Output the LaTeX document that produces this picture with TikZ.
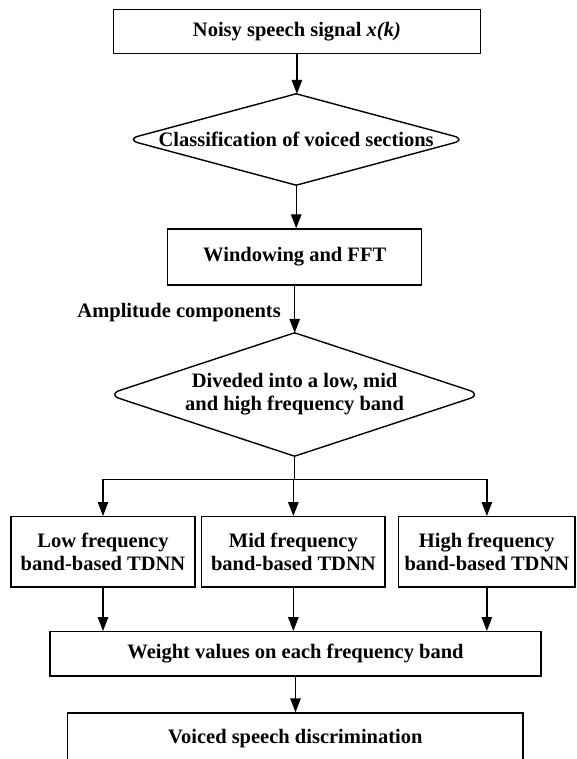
\documentclass[tikz,border=0pt]{standalone}
\usepackage{fontspec}
\setmainfont{Liberation Serif}
\usetikzlibrary{arrows.meta,calc}
\begin{document}
\begin{tikzpicture}[x=1pt,y=-1pt,
  every node/.style={font=\fontsize{20.5}{23}\selectfont\bfseries},
  box/.style={draw, line width=1.4pt, inner sep=0pt, align=center},
  dia/.style={draw=none, inner sep=0pt, align=center},
  ln/.style={line width=1.4pt},
  arr/.style={line width=1.4pt, -{Triangle[length=14pt,width=10.5pt]}},
  diaedge/.style={line width=1.4pt, line cap=round, line join=round, rounded corners=13pt},
]
\useasboundingbox (0,0) rectangle (576,759);
\clip (0,0) rectangle (576,759);

% nodes
\node[box, minimum width=367pt, minimum height=44pt] (sig) at (296.9,31.3) {Noisy speech signal \textit{x(k)}};
\node[dia, minimum width=340pt, minimum height=91pt] (cls) at (296.2,139.5) {Classification of voiced sections};
\node[box, minimum width=254pt, minimum height=56pt] (fft) at (294.7,257) {Windowing and FFT};
\node[anchor=east, inner sep=0pt] (amp) at (281,313) {Amplitude components};
\node[dia, minimum width=374pt, minimum height=123pt] (band) at (294.6,394.5) {Diveded into a low, mid\\and high frequency band};
\coordinate (br) at (294.6,479.3);
\node[box, minimum width=184pt, minimum height=70.3pt] (low) at (103,551.85) {Low frequency\\band-based TDNN};
\node[box, minimum width=183.3pt, minimum height=70.3pt] (mid) at (293.35,551.85) {Mid frequency\\band-based TDNN};
\node[box, minimum width=176.3pt, minimum height=70.3pt] (high) at (486.85,551.85) {High frequency\\band-based TDNN};
\node[box, minimum width=491pt, minimum height=44.3pt] (weight) at (295.5,653.85) {Weight values on each frequency band};
\node[box, minimum width=455.3pt, minimum height=52pt] (voiced) at (295.35,739) {Voiced speech discrimination};

% diamond outlines
\draw[diaedge] (cls.north) -- (cls.west) -- (cls.south);
\draw[diaedge] (cls.south) -- (cls.east) -- (cls.north);
\draw[diaedge] (band.north) -- (band.west) -- (band.south);
\draw[diaedge] (band.south) -- (band.east) -- (band.north);

% connectors
\draw[arr] (sig.south) -- (sig.south |- cls.north);
\draw[arr] (cls.south) -- (cls.south |- fft.north);
\draw[arr] (fft.south) -- (fft.south |- band.north);
\draw[ln] (band.south) -- (br);
\draw[arr] (br) -| (low.north);
\draw[arr] (br) -| (high.north);
\draw[arr] (mid.north |- br) -- (mid.north);
\draw[arr] (low.south) -- (low.south |- weight.north);
\draw[arr] (mid.south) -- (mid.south |- weight.north);
\draw[arr] (high.south) -- (high.south |- weight.north);
\draw[arr] (weight.south) -- (weight.south |- voiced.north);
\end{tikzpicture}
\end{document}
